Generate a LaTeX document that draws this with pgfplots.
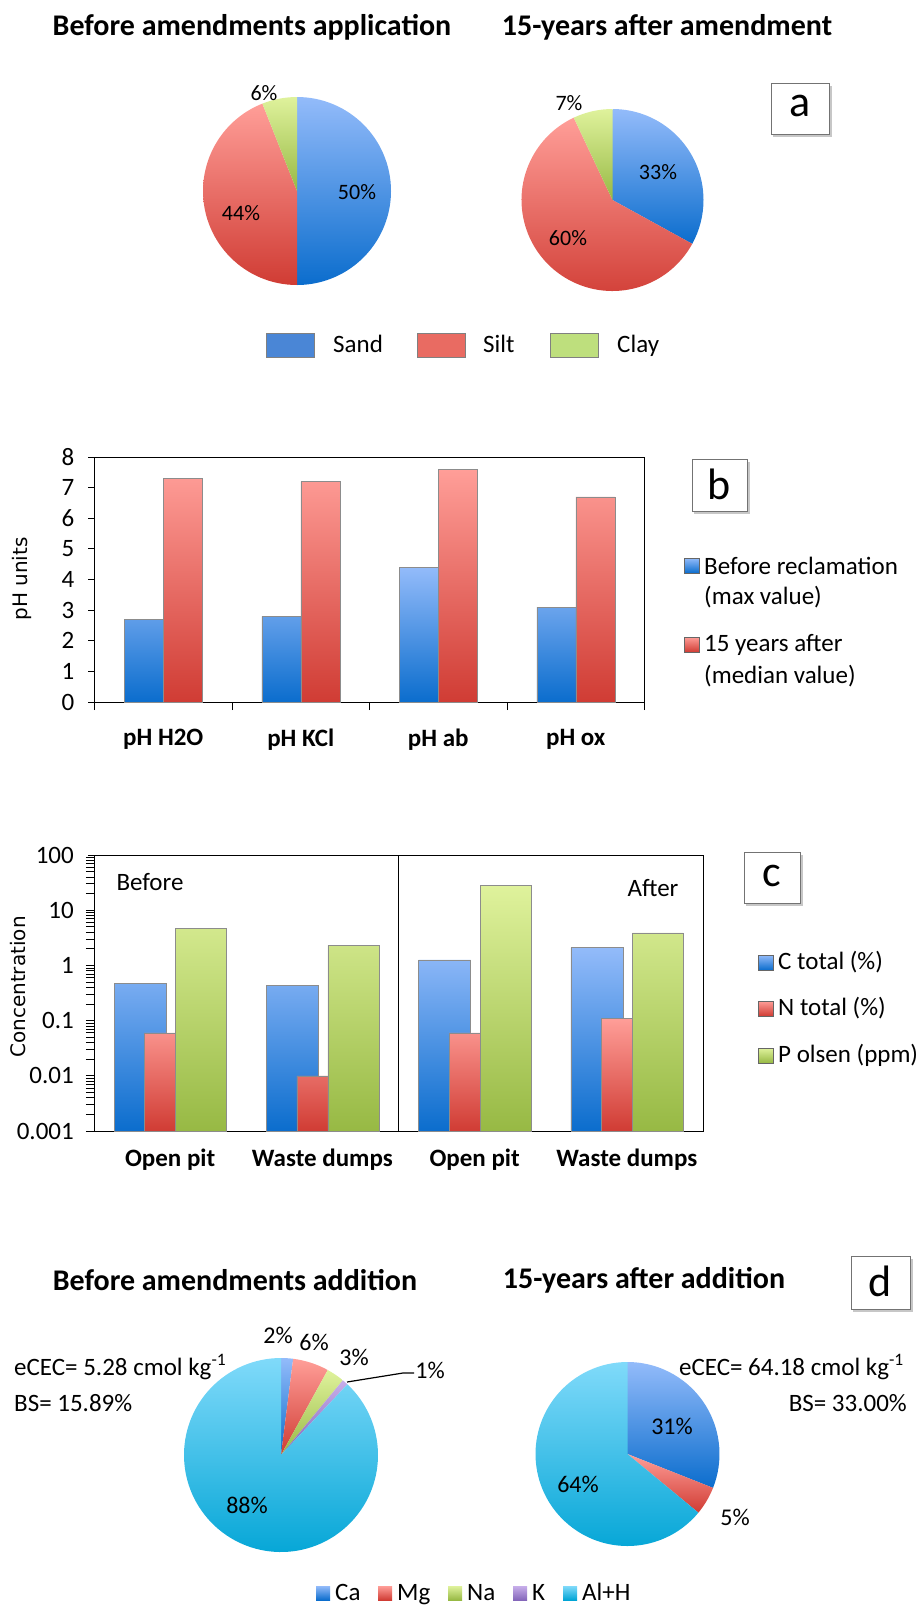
\documentclass[border=0pt]{standalone}
\usepackage{fontspec}
\setmainfont{Carlito}
\newfontfamily\dejavu{DejaVu Sans}
\usepackage{pgfplots}
\pgfplotsset{compat=1.18}
\definecolor{bluetop}{HTML}{93BBFA}
\definecolor{bluebot}{HTML}{0B6DCD}
\definecolor{redtop}{HTML}{FF9E98}
\definecolor{redbot}{HTML}{D03C34}
\definecolor{greentop}{HTML}{DFF29C}
\definecolor{greenbot}{HTML}{97B944}
\definecolor{cyantop}{HTML}{80DAFA}
\definecolor{cyanbot}{HTML}{00A4D5}
\definecolor{purtop}{HTML}{C7AEEA}
\definecolor{purbot}{HTML}{8466BA}
\definecolor{sandc}{HTML}{4A86D6}
\definecolor{siltc}{HTML}{E96B62}
\definecolor{clayc}{HTML}{BEDF7D}
\newcommand{\fs}[1]{\fontsize{#1}{#1}\selectfont}
% pie slice: start angle, end angle (clockwise), top colour, bottom colour
\newcommand{\slice}[4]{\path[top color=#3, bottom color=#4] (axis cs:0,0) -- (axis cs:{cos(#1)},{sin(#1)}) arc[start angle={#1}, end angle={#2}, radius=\pieR] -- cycle;}
\pgfplotsset{pie/.style={hide axis, scale only axis, xmin=-1, xmax=1, ymin=-1, ymax=1, clip=false, anchor=center}}
\pgfplotsset{barax/.style={scale only axis, anchor=south west,
  xmin=-0.5, xmax=3.5, xtick={0,1,2,3},
  xtick pos=bottom, ytick pos=left, tick align=outside,
  major tick length=6pt, minor tick length=8pt,
  major x tick style={draw=none},
  tick style={black, line width=0.8pt},
  axis line style={black, line width=0.8pt},
  xticklabel style={font=\fs{25}\bfseries, anchor=north, inner sep=0pt},
  yticklabel style={font=\fs{25}, anchor=east, inner sep=0pt, xshift=-14pt},
  /pgf/number format/assume math mode=true}}
\begin{document}
\begin{tikzpicture}
\useasboundingbox (0pt,0pt) rectangle (921pt,-1607pt);

% ---------------- panel a: pies ----------------
\def\pieR{94pt}
\begin{axis}[pie, at={(297pt,-191pt)}, width=188pt, height=188pt]
% Sand 50, Silt 44, Clay 6
\slice{90}{90-3.6*50}{bluetop}{bluebot}
\slice{90-3.6*50}{90-3.6*94}{redtop}{redbot}
\slice{90-3.6*94}{90-3.6*100}{greentop}{greenbot}
\end{axis}
\def\pieR{91pt}
\begin{axis}[pie, at={(612.5pt,-200pt)}, width=182pt, height=182pt]
% Sand 33, Silt 60, Clay 7
\slice{90}{90-3.6*33}{bluetop}{bluebot}
\slice{90-3.6*33}{90-3.6*93}{redtop}{redbot}
\slice{90-3.6*93}{90-3.6*100}{greentop}{greenbot}
\end{axis}

% ---------------- panel b ----------------
\begin{axis}[barax, at={(94.5pt,-702pt)}, width=550pt, height=245pt,
  ymin=0, ymax=8, ytick={0,1,2,3,4,5,6,7,8},
  xticklabels={pH H2O, pH KCl, pH ab, pH ox},
  minor xtick={-0.5,0.5,1.5,2.5,3.5},
  xticklabel style={yshift=-21pt}]
\addplot[ybar, bar width=39pt, bar shift=-19.5pt, draw=black!45, line width=0.5pt, top color=bluetop, bottom color=bluebot]
  coordinates {(0,2.7) (1,2.8) (2,4.4) (3,3.1)};
\addplot[ybar, bar width=39pt, bar shift=19.5pt, draw=black!45, line width=0.5pt, top color=redtop, bottom color=redbot]
  coordinates {(0,7.3) (1,7.2) (2,7.6) (3,6.7)};
\end{axis}

% ---------------- panel c ----------------
\begin{axis}[barax, at={(94pt,-1131pt)}, width=609pt, height=276pt,
  ymode=log, ymin=0.001, ymax=100, log origin=infty,
  ytick={0.001,0.01,0.1,1,10,100}, yticklabels={0.001,0.01,0.1,1,10,100},
  minor ytick={}, 
  xticklabels={Open pit, Waste dumps, Open pit, Waste dumps},
  xticklabel style={yshift=-12pt}]
\addplot[ybar, bar width=52pt, bar shift=-30pt, draw=black!45, line width=0.5pt, top color=bluetop, bottom color=bluebot]
  coordinates {(0,0.47) (1,0.43) (2,1.26) (3,2.1)};
\addplot[ybar, bar width=31pt, bar shift=-10pt, draw=black!45, line width=0.5pt, top color=redtop, bottom color=redbot]
  coordinates {(0,0.06) (1,0.01) (2,0.06) (3,0.11)};
\addplot[ybar, bar width=51pt, bar shift=31pt, draw=black!45, line width=0.5pt, top color=greentop, bottom color=greenbot]
  coordinates {(0,4.7) (1,2.3) (2,28) (3,3.9)};
\draw[black, line width=0.8pt] (axis cs:1.5,0.001) -- (axis cs:1.5,100);
\end{axis}

% ---------------- panel d: pies ----------------
\def\pieR{97pt}
\begin{axis}[pie, at={(281pt,-1455pt)}, width=194pt, height=194pt]
% Ca 2, Mg 6, Na 3, K 1, Al+H 88
\slice{90}{90-3.6*2}{bluetop}{bluebot}
\slice{90-3.6*2}{90-3.6*8}{redtop}{redbot}
\slice{90-3.6*8}{90-3.6*11}{greentop}{greenbot}
\slice{90-3.6*11}{90-3.6*12}{purtop}{purbot}
\slice{90-3.6*12}{90-3.6*100}{cyantop}{cyanbot}
\end{axis}
\def\pieR{92pt}
\begin{axis}[pie, at={(627.5pt,-1454pt)}, width=184pt, height=184pt]
% Ca 31, Mg 5, Al+H 64
\slice{90}{90-3.6*31}{bluetop}{bluebot}
\slice{90-3.6*31}{90-3.6*36}{redtop}{redbot}
\slice{90-3.6*36}{90-3.6*100}{cyantop}{cyanbot}
\end{axis}

% ---------------- texts, boxes, legends ----------------
\begin{scope}[x=1pt, y=-1pt]
% panel a
\node[font=\fs{30}\bfseries] at (252,27) {Before amendments application};
\node[font=\fs{30}\bfseries] at (667,27) {15-years after amendment};
\node[font=\fs{22}] at (264,93) {6\%};
\node[font=\fs{22}] at (357,192) {50\%};
\node[font=\fs{22}] at (241,213) {44\%};
\node[font=\fs{22}] at (569,103) {7\%};
\node[font=\fs{22}] at (658,172) {33\%};
\node[font=\fs{22}] at (568,238) {60\%};
\fill[black!22] (773,86) rectangle (832,137);
\draw[black!55, line width=0.8pt, fill=white] (771,83) rectangle (829,134);
\node[font=\fs{44}] at (800,106) {a};
\draw[black!50, line width=0.6pt, fill=sandc] (266,333) rectangle (314,357);
\draw[black!50, line width=0.6pt, fill=siltc] (417,333) rectangle (465,357);
\draw[black!50, line width=0.6pt, fill=clayc] (550,333) rectangle (598,357);
\node[font=\fs{25}, anchor=base west, inner sep=0pt] at (333,352) {Sand};
\node[font=\fs{25}, anchor=base west, inner sep=0pt] at (483,352) {Silt};
\node[font=\fs{25}, anchor=base west, inner sep=0pt] at (617,352) {Clay};

% panel b
\node[font=\fs{20}\dejavu, rotate=90] at (22,579) {pH units};
\fill[black!22] (694,462) rectangle (750,514);
\draw[black!55, line width=0.8pt, fill=white] (692,459) rectangle (747,511);
\node[font=\fs{44}] at (719.5,484) {b};
\path[top color=bluetop, bottom color=bluebot, draw=black!60, line width=0.4pt] (684,558) rectangle (699,573);
\node[font=\fs{25}, anchor=west, inner sep=0pt] at (704,566) {Before reclamation};
\node[font=\fs{25}, anchor=west, inner sep=0pt] at (704,597) {(max value)};
\path[top color=redtop, bottom color=redbot, draw=black!60, line width=0.4pt] (684,637) rectangle (699,652);
\node[font=\fs{25}, anchor=west, inner sep=0pt] at (704,645) {15 years after};
\node[font=\fs{25}, anchor=west, inner sep=0pt] at (704,676) {(median value)};

% panel c
\node[font=\fs{20}\dejavu, rotate=90] at (18,987) {Concentration};
\node[font=\fs{25}] at (150,882) {Before};
\node[font=\fs{25}] at (653,888) {After};
\fill[black!22] (746,855) rectangle (803,906);
\draw[black!55, line width=0.8pt, fill=white] (744,852) rectangle (800,903);
\node[font=\fs{44}] at (772,876) {c};
\path[top color=bluetop, bottom color=bluebot, draw=black!60, line width=0.4pt] (758,955) rectangle (773,970);
\node[font=\fs{25}, anchor=west, inner sep=0pt] at (778,962) {C total (\%)};
\path[top color=redtop, bottom color=redbot, draw=black!60, line width=0.4pt] (758,1001) rectangle (773,1016);
\node[font=\fs{25}, anchor=west, inner sep=0pt] at (778,1008) {N total (\%)};
\path[top color=greentop, bottom color=greenbot, draw=black!60, line width=0.4pt] (758,1048) rectangle (773,1063);
\node[font=\fs{25}, anchor=west, inner sep=0pt] at (778,1055) {P olsen (ppm)};

% panel d
\node[font=\fs{30}\bfseries] at (235,1280) {Before amendments addition};
\node[font=\fs{30}\bfseries] at (644,1280) {15-years after addition};
\fill[black!22] (853,1259) rectangle (913,1312);
\draw[black!55, line width=0.8pt, fill=white] (851,1256) rectangle (910,1309);
\node[font=\fs{44}] at (880.5,1281) {d};
\node[font=\fs{25}, anchor=west, inner sep=0pt] at (14,1367) {eCEC= 5.28 cmol kg\textsuperscript{-1}};
\node[font=\fs{25}, anchor=west, inner sep=0pt] at (14,1403) {BS= 15.89\%};
\node[font=\fs{25}, anchor=east, inner sep=0pt] at (904,1367) {eCEC= 64.18 cmol kg\textsuperscript{-1}};
\node[font=\fs{25}, anchor=east, inner sep=0pt] at (907,1403) {BS= 33.00\%};
\node[font=\fs{24}] at (278,1335) {2\%};
\node[font=\fs{24}] at (314,1342) {6\%};
\node[font=\fs{24}] at (354,1357) {3\%};
\node[font=\fs{24}] at (430,1370) {1\%};
\draw[black, line width=1.2pt] (347,1382) -- (403,1373) -- (414,1373);
\node[font=\fs{24}] at (247,1505) {88\%};
\node[font=\fs{24}] at (672,1426) {31\%};
\node[font=\fs{24}] at (578,1484) {64\%};
\node[font=\fs{24}] at (735,1517) {5\%};
\path[top color=bluetop, bottom color=bluebot] (316,1586) rectangle (330,1600);
\node[font=\fs{25}, anchor=base west, inner sep=0pt] at (335,1600) {Ca};
\path[top color=redtop, bottom color=redbot] (378,1586) rectangle (392,1600);
\node[font=\fs{25}, anchor=base west, inner sep=0pt] at (397,1600) {Mg};
\path[top color=greentop, bottom color=greenbot] (448,1586) rectangle (462,1600);
\node[font=\fs{25}, anchor=base west, inner sep=0pt] at (467,1600) {Na};
\path[top color=purtop, bottom color=purbot] (513,1586) rectangle (527,1600);
\node[font=\fs{25}, anchor=base west, inner sep=0pt] at (532,1600) {K};
\path[top color=cyantop, bottom color=cyanbot] (563,1586) rectangle (577,1600);
\node[font=\fs{25}, anchor=base west, inner sep=0pt] at (582,1600) {Al+H};
\end{scope}
\end{tikzpicture}
\end{document}
